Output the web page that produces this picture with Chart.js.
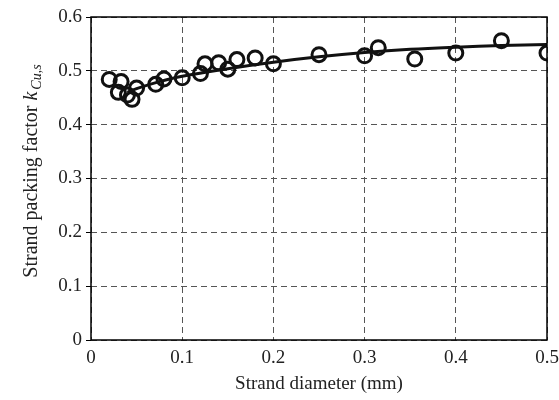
<!DOCTYPE html>
<html>
<head>
<meta charset="utf-8">
<script src="https://cdn.jsdelivr.net/npm/chart.js@4.4.0/dist/chart.umd.min.js"></script>
<style>
  html, body { margin: 0; padding: 0; background: #fff; }
  #wrap { width: 559px; height: 400px; position: relative; }
</style>
</head>
<body>
<div id="wrap"><canvas id="chart"></canvas></div>
<script>
// measured points
const measX = [0.02, 0.03, 0.033, 0.04, 0.045, 0.05, 0.071, 0.08, 0.1, 0.12, 0.125, 0.14, 0.15, 0.16, 0.18, 0.2, 0.25, 0.3, 0.315, 0.355, 0.4, 0.45, 0.5];
const measY = [0.484, 0.460, 0.480, 0.455, 0.447, 0.468, 0.475, 0.485, 0.487, 0.495, 0.513, 0.515, 0.503, 0.521, 0.524, 0.513, 0.530, 0.528, 0.543, 0.522, 0.533, 0.556, 0.533];

// fitted curve
const fitX = [0.04, 0.05, 0.075, 0.1, 0.15, 0.2, 0.25, 0.3, 0.35, 0.4, 0.45, 0.5];
const fitY = [0.460, 0.467, 0.480, 0.490, 0.504, 0.516, 0.526, 0.534, 0.540, 0.544, 0.547, 0.549];

const xTicks = [0, 0.1, 0.2, 0.3, 0.4, 0.5];
const yTicks = [0, 0.1, 0.2, 0.3, 0.4, 0.5, 0.6];

const FONT = "'Liberation Serif', 'DejaVu Serif', serif";

const toPts = (xs, ys) => xs.map((x, i) => ({ x: x, y: ys[i] }));

// box around plot + y title with italic subscript
const framePlugin = {
  id: 'frame',
  afterDraw(chart) {
    const { ctx, chartArea: a } = chart;
    ctx.save();
    ctx.strokeStyle = '#000';
    ctx.lineWidth = 1.5;
    ctx.strokeRect(a.left, a.top, a.right - a.left, a.bottom - a.top);

    // y axis title
    const parts = [
      { t: 'Strand packing factor ', f: '20px ' + FONT, dy: 0 },
      { t: 'k', f: 'italic 20px ' + FONT, dy: 0 },
      { t: 'Cu,s', f: 'italic 14px ' + FONT, dy: 5 }
    ];
    let total = 0;
    parts.forEach(p => { ctx.font = p.f; p.w = ctx.measureText(p.t).width; total += p.w; });
    ctx.translate(32, 172);
    ctx.rotate(-Math.PI / 2);
    ctx.fillStyle = '#222';
    ctx.textBaseline = 'middle';
    let x = -total / 2;
    parts.forEach(p => {
      ctx.font = p.f;
      ctx.fillText(p.t, x, p.dy);
      x += p.w + (p.t === 'k' ? 2 : 0);
    });
    ctx.restore();
  }
};

new Chart(document.getElementById('chart'), {
  type: 'scatter',
  data: {
    datasets: [
      {
        label: 'fit',
        type: 'line',
        data: toPts(fitX, fitY),
        borderColor: '#111',
        borderWidth: 3,
        pointRadius: 0,
        tension: 0.4,
        fill: false
      },
      {
        label: 'measured',
        data: toPts(measX, measY),
        pointRadius: 7,
        pointBorderWidth: 3,
        pointBorderColor: '#111',
        pointBackgroundColor: 'rgba(0,0,0,0)'
      }
    ]
  },
  options: {
    responsive: true,
    maintainAspectRatio: false,
    animation: false,
    layout: { padding: { top: 17, right: 12, left: 0, bottom: 0 } },
    plugins: {
      legend: { display: false },
      tooltip: { enabled: false }
    },
    scales: {
      x: {
        type: 'linear',
        min: 0,
        max: 0.5,
        afterBuildTicks: s => { s.ticks = xTicks.map(v => ({ value: v })); },
        afterFit: s => { s.height = 60; s.paddingLeft = 0; s.paddingRight = 0; },
        ticks: {
          color: '#222',
          font: { family: FONT, size: 19 },
          padding: 7,
          maxRotation: 0,
          callback: v => String(v)
        },
        grid: {
          color: '#555',
          lineWidth: 1,
          drawTicks: false
        },
        border: { display: false, dash: [6, 4] },
        title: {
          display: true,
          text: 'Strand diameter (mm)',
          color: '#222',
          font: { family: FONT, size: 19 },
          padding: { top: 0, bottom: 5 }
        }
      },
      y: {
        type: 'linear',
        min: 0,
        max: 0.6,
        afterBuildTicks: s => { s.ticks = yTicks.map(v => ({ value: v })); },
        afterFit: s => { s.width = 91; s.paddingTop = 0; s.paddingBottom = 0; },
        ticks: {
          color: '#222',
          font: { family: FONT, size: 19 },
          padding: 4,
          callback: v => String(v)
        },
        grid: {
          color: '#555',
          lineWidth: 1,
          tickLength: 5,
          tickColor: '#000',
          tickBorderDash: []
        },
        border: { display: false, dash: [6, 4] },
        title: { display: false }
      }
    }
  },
  plugins: [framePlugin]
});
</script>
</body>
</html>
